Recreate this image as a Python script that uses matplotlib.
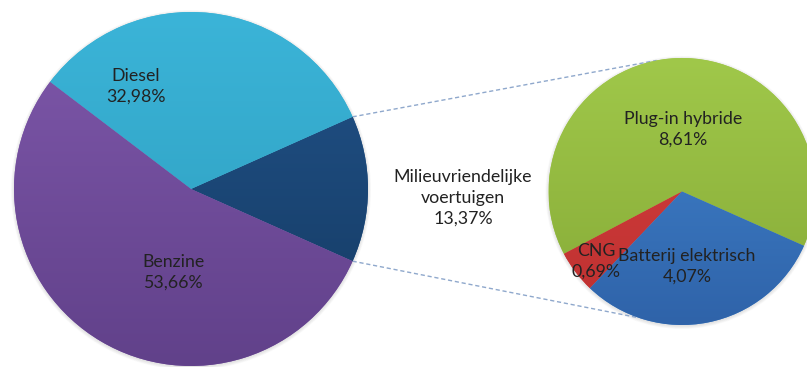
import numpy as np
import matplotlib.pyplot as plt
from matplotlib.patches import Circle
from matplotlib.colors import to_rgb

plt.rcParams['font.family'] = ['Lato', 'DejaVu Sans']

# hoofdtaart: brandstoftypes
main_labels = ['Milieuvriendelijke\nvoertuigen', 'Diesel', 'Benzine']
main_values = [13.37, 32.98, 53.66]
main_top = ['#22538a', '#3bb4d8', '#7f58ab']
main_bottom = ['#143a62', '#2c9cbc', '#61418a']

# tweede taart: opsplitsing milieuvriendelijke voertuigen
sub_labels = ['Plug-in hybride', 'CNG', 'Batterij elektrisch']
sub_values = [8.61, 0.69, 4.07]
sub_top = ['#a0c84a', '#d8413f', '#4286d0']
sub_bottom = ['#86aa37', '#bd3030', '#2f63a9']

W, H = 807, 367
fig = plt.figure(figsize=(W / 100, H / 100), dpi=100)
ax = fig.add_axes([0, 0, 1, 1])

main_c, main_r = (191, 178), 177
sub_c, sub_r = (682, 175.5), 133.5


def pct(v):
    return f'{v:.2f}'.replace('.', ',') + '%'


def shadow(c, r):
    for k in range(6):
        ax.add_patch(Circle((c[0], c[1] - 1), r + 0.6 * k, color='#7a7a7a',
                            alpha=0.035, lw=0, zorder=0))


def gradient_fill(wedges, tops, bottoms, c, r):
    n = 200
    t = np.linspace(0, 1, n)[:, None]
    for w, ct, cb in zip(wedges, tops, bottoms):
        a, b = np.array(to_rgb(ct)), np.array(to_rgb(cb))
        img = (a * (1 - t) + b * t)[:, None, :].repeat(2, axis=1)
        im = ax.imshow(img, extent=(c[0] - r, c[0] + r, c[1] - r, c[1] + r),
                       origin='upper', aspect='auto', zorder=2)
        im.set_clip_path(w)


shadow(main_c, main_r)
shadow(sub_c, sub_r)

start = -main_values[0] / sum(main_values) * 360 / 2
mw, _ = ax.pie(main_values, colors=main_top, startangle=start, center=main_c,
               radius=main_r, frame=True, wedgeprops=dict(lw=0))
gradient_fill(mw, main_top, main_bottom, main_c, main_r)

sw, _ = ax.pie(sub_values, colors=sub_top, startangle=-24, center=sub_c,
               radius=sub_r, frame=True, wedgeprops=dict(lw=0))
gradient_fill(sw, sub_top, sub_bottom, sub_c, sub_r)

ax.set_xlim(0, W)
ax.set_ylim(0, H)
ax.axis('off')

# verbindingslijnen tussen de twee taarten
t1, t2 = mw[0].theta1, mw[0].theta2
for ang_main, ang_sub in [(t2, 101), (t1, -109)]:
    p0 = (main_c[0] + main_r * np.cos(np.radians(ang_main)),
          main_c[1] + main_r * np.sin(np.radians(ang_main)))
    p1 = (sub_c[0] + sub_r * np.cos(np.radians(ang_sub)),
          sub_c[1] + sub_r * np.sin(np.radians(ang_sub)))
    ax.plot([p0[0], p1[0]], [p0[1], p1[1]], ls=(0, (3, 2)), color='#8fa8cc',
            lw=1, zorder=1)

txt = dict(ha='center', va='center', fontsize=12.8, color='#222222',
           linespacing=1.35, zorder=5)
main_pos = [(463, H - 198), (136, H - 86), (173, H - 272)]
for lab, v, p in zip(main_labels, main_values, main_pos):
    ax.text(p[0], p[1], f'{lab}\n{pct(v)}', **txt)

sub_pos = [(683, H - 129), (596, H - 261), (687, H - 266)]
for lab, v, p in zip(sub_labels, sub_values, sub_pos):
    ax.text(p[0], p[1], f'{lab}\n{pct(v)}', **txt)

fig.savefig('out.png', dpi=100)
